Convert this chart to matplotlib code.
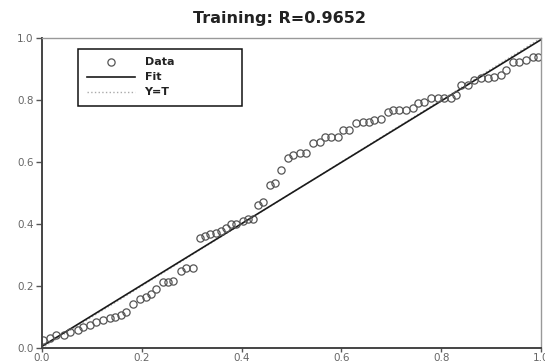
import matplotlib
matplotlib.use('Agg')
import matplotlib.pyplot as plt
import numpy as np

# data (target vs output, training set)
target = [0.003, 0.016, 0.029, 0.045, 0.056, 0.073, 0.083, 0.096, 0.109, 0.123,
          0.136, 0.146, 0.159, 0.169, 0.183, 0.196, 0.209, 0.219, 0.229, 0.243,
          0.253, 0.263, 0.279, 0.289, 0.303, 0.316, 0.326, 0.336, 0.349, 0.359,
          0.369, 0.379, 0.389, 0.403, 0.413, 0.423, 0.433, 0.443, 0.456, 0.466,
          0.479, 0.493, 0.503, 0.516, 0.529, 0.543, 0.556, 0.566, 0.579, 0.593,
          0.603, 0.616, 0.629, 0.643, 0.656, 0.666, 0.679, 0.693, 0.703, 0.716,
          0.729, 0.743, 0.753, 0.766, 0.779, 0.793, 0.806, 0.819, 0.829, 0.839,
          0.853, 0.866, 0.879, 0.893, 0.906, 0.919, 0.929, 0.943, 0.956, 0.969,
          0.983, 0.993]
output = [0.026, 0.031, 0.042, 0.042, 0.052, 0.057, 0.068, 0.074, 0.084, 0.090,
          0.095, 0.100, 0.106, 0.116, 0.142, 0.159, 0.165, 0.175, 0.190, 0.211,
          0.211, 0.217, 0.249, 0.259, 0.259, 0.356, 0.362, 0.367, 0.372, 0.378,
          0.388, 0.399, 0.399, 0.410, 0.415, 0.417, 0.461, 0.472, 0.526, 0.531,
          0.574, 0.612, 0.623, 0.628, 0.630, 0.660, 0.666, 0.682, 0.682, 0.682,
          0.703, 0.703, 0.725, 0.730, 0.730, 0.735, 0.740, 0.762, 0.768, 0.768,
          0.768, 0.773, 0.789, 0.795, 0.805, 0.805, 0.805, 0.805, 0.816, 0.848,
          0.848, 0.865, 0.870, 0.870, 0.875, 0.881, 0.897, 0.924, 0.924, 0.929,
          0.940, 0.940]
fit_slope, fit_intercept = 0.99, 0.005
line_x = [0.0, 1.0]

fig = plt.figure(figsize=(5.45, 3.62), dpi=100)
ax = fig.add_axes([0.077, 0.039, 0.916, 0.856])

ax.plot(line_x, line_x, ':', color='#aaaaaa', linewidth=1, label='Y=T')
ax.plot(line_x, [fit_slope * x + fit_intercept for x in line_x], '-',
        color='#1a1a1a', linewidth=1.2, label='Fit')
ax.plot(target, output, 'o', mfc='none', mec='#555555', mew=0.9, ms=5.2,
        label='Data', linestyle='none')

ax.set_xlim(0, 1)
ax.set_ylim(0, 1)
ticks = [0.0, 0.2, 0.4, 0.6, 0.8, 1.0]
ax.set_xticks(ticks)
ax.set_yticks(ticks)
ax.set_xticklabels([f'{t:.1f}' for t in ticks])
ax.set_yticklabels([f'{t:.1f}' for t in ticks])
ax.tick_params(direction='out', length=4, width=1, colors='#555555',
               labelsize=7.5, labelcolor='#666666', pad=2)
ax.tick_params(axis='x', length=3, pad=0.5)
for side in ['left', 'bottom']:
    ax.spines[side].set_color('#444444')
    ax.spines[side].set_linewidth(1.4)
for side in ['top', 'right']:
    ax.spines[side].set_color('#999999')
    ax.spines[side].set_linewidth(1.0)

fig.text(0.512, 0.95, 'Training: R=0.9652', ha='center', va='center',
         fontsize=11.5, fontweight='bold', color='#222222', family='DejaVu Sans')

handles, labels = ax.get_legend_handles_labels()
order = [2, 1, 0]
leg = ax.legend([handles[i] for i in order], [labels[i] for i in order],
                loc='upper left', bbox_to_anchor=(0.072, 0.776, 0.329, 0.19),
                mode='expand', fancybox=False, edgecolor='#111111', framealpha=1,
                handlelength=4.3, fontsize=8, borderpad=0.8,
                labelspacing=0.45, handletextpad=0.9, borderaxespad=0)
leg.get_frame().set_linewidth(1.1)
for txt in leg.get_texts():
    txt.set_fontweight('bold')
    txt.set_color('#222222')

fig.savefig('out.png', dpi=100)
